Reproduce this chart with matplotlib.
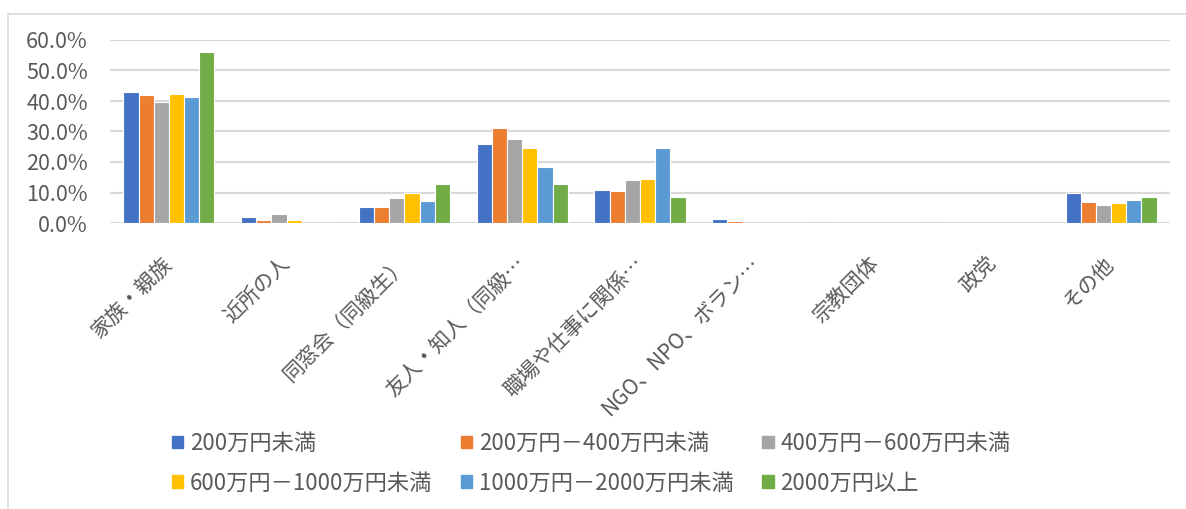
import matplotlib.pyplot as plt
from matplotlib.patches import Rectangle
from matplotlib.ticker import FuncFormatter
import numpy as np

plt.rcParams['font.family'] = ['Noto Sans CJK JP', 'DejaVu Sans']

# Data
categories = ['家族・親族', '近所の人', '同窓会（同級生）', '友人・知人（同級…',
              '職場や仕事に関係…', 'NGO、NPO、ボラン…', '宗教団体', '政党', 'その他']
series = ['200万円未満', '200万円－400万円未満', '400万円－600万円未満',
          '600万円－1000万円未満', '1000万円－2000万円未満', '2000万円以上']
under_200 = [0.429, 0.019, 0.053, 0.259, 0.109, 0.014, 0.0, 0.0, 0.097]
r200_400 = [0.420, 0.010, 0.053, 0.310, 0.104, 0.007, 0.0, 0.0, 0.070]
r400_600 = [0.398, 0.030, 0.081, 0.274, 0.140, 0.0, 0.0, 0.0, 0.058]
r600_1000 = [0.424, 0.010, 0.097, 0.247, 0.144, 0.0, 0.0, 0.0, 0.066]
r1000_2000 = [0.412, 0.0, 0.073, 0.184, 0.247, 0.0, 0.0, 0.0, 0.074]
over_2000 = [0.562, 0.0, 0.129, 0.129, 0.085, 0.0, 0.0, 0.0, 0.085]
values = [under_200, r200_400, r400_600, r600_1000, r1000_2000, over_2000]
colors = ['#4472C4', '#ED7D31', '#A5A5A5', '#FFC000', '#5B9BD5', '#70AD47']

W, H = 1186, 509
fig = plt.figure(figsize=(W / 100, H / 100), dpi=100)
ax = fig.add_axes([110 / W, 1 - 223 / H, 1060 / W, 183 / H])

x = np.arange(len(categories))
w = 0.129
for i, (vals, c, name) in enumerate(zip(values, colors, series)):
    ax.bar(x + (i - 2.5) * w, vals, w, color=c, edgecolor='white', linewidth=0.8,
           label=name, zorder=3)

ax.set_xlim(-0.5, len(categories) - 0.5)
ax.set_ylim(0, 0.6)
ax.set_yticks(np.arange(0, 0.61, 0.1))
ax.yaxis.set_major_formatter(FuncFormatter(lambda v, p: f'{v * 100:.1f}%'))
ax.grid(axis='y', color='#d9d9d9', linewidth=1.5, zorder=0)
for s in ax.spines.values():
    s.set_visible(False)
ax.tick_params(length=0, labelsize=15.5, labelcolor='#595959')
ax.tick_params(axis='y', pad=16)
ax.set_xticks(x)
ax.set_xticklabels(categories, rotation=45, ha='right', va='center',
                   rotation_mode='anchor', fontsize=15)
ax.tick_params(axis='x', pad=27)

# Legend, filled row by row like the original
order = [0, 3, 1, 4, 2, 5]
handles = [Rectangle((0, 0), 1, 1, color=colors[k]) for k in order]
fig.legend(handles, [series[k] for k in order], loc='upper left',
           bbox_to_anchor=(152 / W, 1 - 412 / H),
           ncol=3, frameon=False, fontsize=16, handlelength=0.5, handleheight=0.5,
           handletextpad=0.3, columnspacing=1.3, labelspacing=0.75,
           labelcolor='#595959')

# Chart border
fig.add_artist(Rectangle((8 / W, -0.1), 1.1, (H - 14) / H + 0.1,
                         transform=fig.transFigure, fill=False,
                         edgecolor='#d9d9d9', linewidth=1.2))

fig.savefig('out.png', dpi=100)
